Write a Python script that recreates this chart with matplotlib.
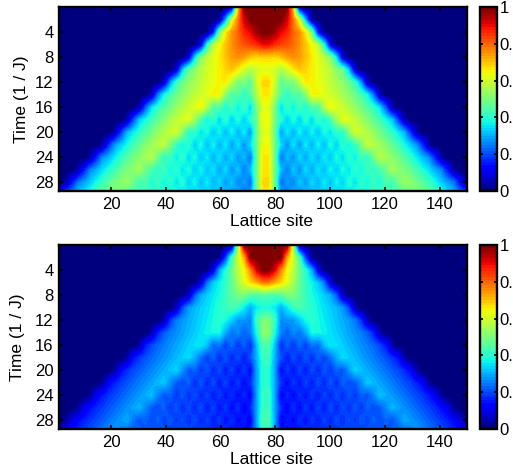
import numpy as np
import matplotlib
matplotlib.use("Agg")
import matplotlib.pyplot as plt

plt.rcParams['font.family'] = ['Liberation Sans', 'DejaVu Sans']

# Density, one list per time step (t = 0, 2, ... 30).
# Each list goes from the middle of the chain outwards, zero past its end.
top_rows = [
    [1, 1, 1, 1, .7, .05],
    [1, 1, 1, .92, .78, .62, .3, .04],
    [1, .97, .9, .87, .8, .75, .66, .5, .15, .01],
    [.9, .86, .84, .82, .79, .75, .7, .64, .58, .4, .1, .01],
    [.68, .68, .7, .74, .76, .74, .7, .66, .62, .58, .52, .35, .08],
    [.62, .6, .56, .6, .66, .7, .68, .65, .63, .6, .57, .52, .48, .33, .08],
    [.68, .6, .46, .5, .5, .58, .66, .65, .63, .61, .58, .55, .52, .48, .42, .28, .07],
    [.66, .56, .46, .4, .46, .44, .52, .64, .65, .62, .6, .58, .55, .52, .48, .44, .38, .25, .06],
    [.62, .5, .34, .43, .36, .44, .38, .46, .44, .57, .65, .62, .59, .56, .53, .49, .45, .41, .35, .22, .05],
    [.64, .48, .4, .33, .4, .33, .41, .34, .42, .37, .44, .54, .63, .61, .58, .55, .51, .47, .43, .38, .33, .2, .05],
    [.62, .48, .28, .37, .3, .38, .31, .38, .32, .39, .35, .41, .39, .52, .61, .59, .56, .53, .49, .45, .41, .36, .31, .18, .05],
    [.64, .48, .35, .27, .36, .28, .37, .3, .38, .31, .39, .33, .41, .37, .42, .5, .59, .57, .54, .51, .47, .43, .38, .33, .28, .17, .04],
    [.66, .48, .24, .32, .27, .35, .29, .36, .3, .37, .32, .39, .34, .41, .36, .43, .4, .49, .57, .55, .52, .49, .45, .41, .36, .31, .27, .16, .04],
    [.66, .48, .32, .25, .33, .27, .35, .29, .36, .31, .38, .33, .39, .35, .41, .37, .43, .4, .44, .48, .55, .52, .5, .47, .43, .39, .35, .3, .26, .15, .04],
    [.68, .48, .23, .29, .26, .33, .28, .35, .3, .37, .31, .38, .33, .4, .35, .41, .37, .43, .38, .45, .42, .49, .54, .52, .49, .46, .42, .38, .33, .29, .25, .14, .04],
    [.66, .48, .3, .24, .32, .26, .33, .28, .35, .3, .37, .32, .38, .34, .4, .36, .41, .38, .43, .4, .45, .43, .45, .48, .53, .5, .48, .45, .41, .36, .32, .28, .24, .13],
]
bottom_rows = [
    [1, 1, 1, 1, .55, .03],
    [1, 1, 1, .72, .6, .44, .2, .02],
    [1, .92, .76, .64, .58, .48, .4, .3, .1, .01],
    [.78, .72, .68, .62, .55, .47, .41, .37, .33, .25, .08, .01],
    [.45, .44, .46, .5, .5, .46, .42, .38, .36, .33, .3, .22, .06, .01],
    [.38, .36, .3, .36, .42, .44, .42, .4, .37, .35, .33, .31, .28, .2, .06],
    [.5, .42, .26, .28, .28, .33, .38, .4, .38, .36, .34, .32, .3, .28, .25, .18, .05],
    [.52, .38, .26, .22, .27, .24, .3, .38, .38, .37, .35, .33, .31, .29, .27, .25, .22, .16, .05],
    [.44, .32, .17, .23, .18, .24, .19, .25, .23, .32, .36, .35, .33, .31, .29, .27, .25, .23, .2, .15, .04],
    [.42, .3, .21, .15, .21, .16, .22, .17, .23, .19, .24, .3, .35, .33, .31, .29, .27, .25, .23, .21, .18, .14, .04],
    [.4, .29, .13, .19, .14, .2, .15, .21, .16, .22, .18, .23, .21, .28, .34, .32, .3, .28, .26, .24, .22, .2, .17, .13, .04],
    [.4, .29, .18, .13, .19, .14, .2, .15, .21, .16, .22, .17, .23, .2, .22, .27, .33, .31, .29, .27, .25, .23, .21, .19, .16, .12, .03],
    [.42, .29, .12, .17, .13, .18, .14, .19, .15, .2, .16, .21, .17, .22, .18, .23, .21, .26, .32, .3, .28, .26, .24, .22, .2, .18, .15, .11, .03],
    [.42, .29, .17, .12, .18, .13, .19, .14, .2, .15, .21, .16, .21, .17, .22, .18, .23, .2, .22, .26, .31, .29, .27, .25, .23, .21, .19, .17, .14, .1, .03],
    [.44, .29, .12, .16, .13, .18, .14, .19, .15, .2, .16, .21, .17, .21, .18, .22, .19, .23, .2, .23, .21, .25, .3, .28, .26, .24, .22, .2, .18, .16, .13, .09, .03],
    [.42, .28, .16, .12, .17, .13, .18, .14, .19, .15, .2, .16, .21, .17, .22, .18, .22, .19, .23, .2, .23, .21, .22, .25, .29, .27, .25, .23, .21, .19, .17, .15, .12, .08],
]
site_ticks = [20, 40, 60, 80, 100, 120, 140]
time_ticks = [4, 8, 12, 16, 20, 24, 28]
bar_ticks = [0, 0.2, 0.4, 0.6, 0.8, 1]
bar_labels = ['0', '0.2', '0.4', '0.6', '0.8', '1']

W, H = 513, 476


def to_matrix(rows):
    half = np.array([r + [0] * (34 - len(r)) for r in rows])
    return np.hstack([half[:, ::-1], half])


def draw_panel(fig, rows, top, bottom, label_y, ylabel_x):
    ax = fig.add_axes([59 / W, 1 - bottom / H, 408 / W, (bottom - top) / H])
    im = ax.imshow(to_matrix(rows), cmap=plt.get_cmap('jet', 64), vmin=0, vmax=1,
                   aspect='auto', interpolation='bilinear', extent=[0, 153, 31, -1])
    ax.set_xlim(1, 150)
    ax.set_ylim(29.4, 0)
    ax.set_xticks(site_ticks)
    ax.set_yticks(time_ticks)
    ax.tick_params(direction='in', top=True, right=True, length=3, width=1.2,
                   labelsize=12, pad=4)
    for s in ax.spines.values():
        s.set_linewidth(1.7)
    fig.text(271 / W, 1 - label_y / H, 'Lattice site', fontsize=12.5, ha='center', va='center')
    fig.text(ylabel_x / W, 1 - (top + bottom) / 2 / H, 'Time (1 / J)', fontsize=12.5,
             rotation=90, ha='center', va='center')

    cax = fig.add_axes([480 / W, 1 - bottom / H, 17 / W, (bottom - top) / H])
    cb = fig.colorbar(im, cax=cax)
    cb.set_ticks(bar_ticks)
    cb.set_ticklabels(bar_labels)
    cax.tick_params(direction='in', left=True, right=True, length=2, width=1.2,
                    labelsize=12, pad=2)
    cb.outline.set_linewidth(1.7)


fig = plt.figure(figsize=(W / 100, H / 100), dpi=100)
draw_panel(fig, top_rows, 7, 191, 221, 22)
draw_panel(fig, bottom_rows, 245, 429, 460, 18)
fig.savefig('out.png', dpi=100)
